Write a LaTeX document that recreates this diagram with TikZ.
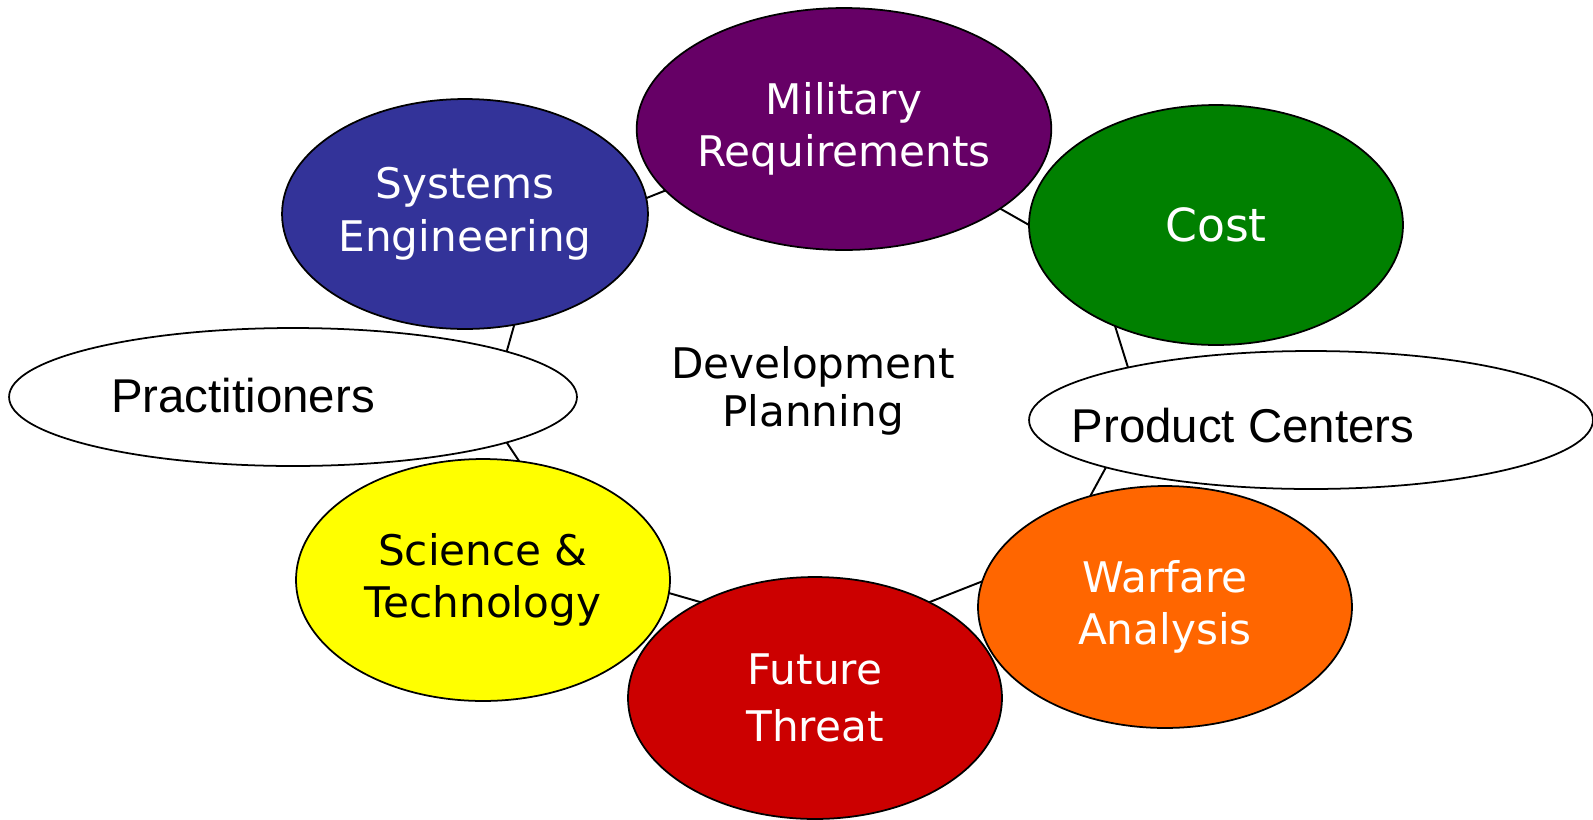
\documentclass[tikz,border=0pt]{standalone}
\usepackage{fontspec}
\setmainfont{DejaVu Sans}
\newfontfamily\arialfont{Liberation Sans}
\usepackage{tikz}
\usetikzlibrary{shapes.geometric}
\definecolor{milpurple}{HTML}{660066}
\definecolor{costgreen}{HTML}{008000}
\definecolor{sysblue}{HTML}{333399}
\definecolor{techyellow}{HTML}{FFFF00}
\definecolor{threatred}{HTML}{CC0000}
\definecolor{warorange}{HTML}{FF6600}

\begin{document}
\begin{tikzpicture}[x=0.02cm, y=-0.02cm,
    blob/.style={draw, ellipse, line width=1pt, inner sep=0pt, outer sep=0pt, align=center,
      font=\fontsize{24}{30}\selectfont},
    link/.style={line width=1.1pt}]
      \useasboundingbox (0,0) rectangle (1593,819);
      % ring of groups
        \node (mr) at (844,129) [blob, fill=milpurple, text=white, minimum width=8.28cm, minimum height=4.84cm] {Military\\Requirements};
        \node (cost) at (1216,225) [blob, fill=costgreen, text=white, minimum width=7.48cm, minimum height=4.8cm, font=\fontsize{26}{32}\selectfont] {Cost};
        \node (se) at (465,214) [blob, fill=sysblue, text=white, minimum width=7.32cm, minimum height=4.6cm] {Systems\\Engineering};
        \node (pr) at (293,397) [blob, fill=white, minimum width=11.36cm, minimum height=2.76cm] {};
        \node (pc) at (1311,420) [blob, fill=white, minimum width=11.28cm, minimum height=2.76cm] {};
        \node (st) at (483,580) [blob, fill=techyellow, minimum width=7.48cm, minimum height=4.84cm] {Science \&\\Technology};
        \node (ft) at (815,698) [blob, fill=threatred, text=white, minimum width=7.48cm, minimum height=4.84cm, font=\fontsize{24}{32}\selectfont] {Future\\Threat};
        \node (wa) at (1165,607) [blob, fill=warorange, text=white, minimum width=7.48cm, minimum height=4.84cm] {Warfare\\Analysis};

        \node (prtext) at (243,396) [font=\arialfont\fontsize{27}{32}\selectfont] {Practitioners};
        \node (pctext) at (1243,426) [font=\arialfont\fontsize{27}{32}\selectfont] {Product Centers};
        \node (dp) at (813,391) [align=center, font=\fontsize{24}{27}\selectfont] {Development\\Planning};

        \draw[link] (se.5) to (mr.199);
        \draw[link] (mr.333) to (cost.180);
        \draw[link] (cost.225) to (pc.164);
        \draw[link] (pc.193) to (wa.124);
        \draw[link] (wa.172) to (ft.40);
        \draw[link] (ft.140) to (st.356);
        \draw[link] (st.73) to (pr.348);
        \draw[link] (pr.12) to (se.294);
    \end{tikzpicture}
\end{document}
